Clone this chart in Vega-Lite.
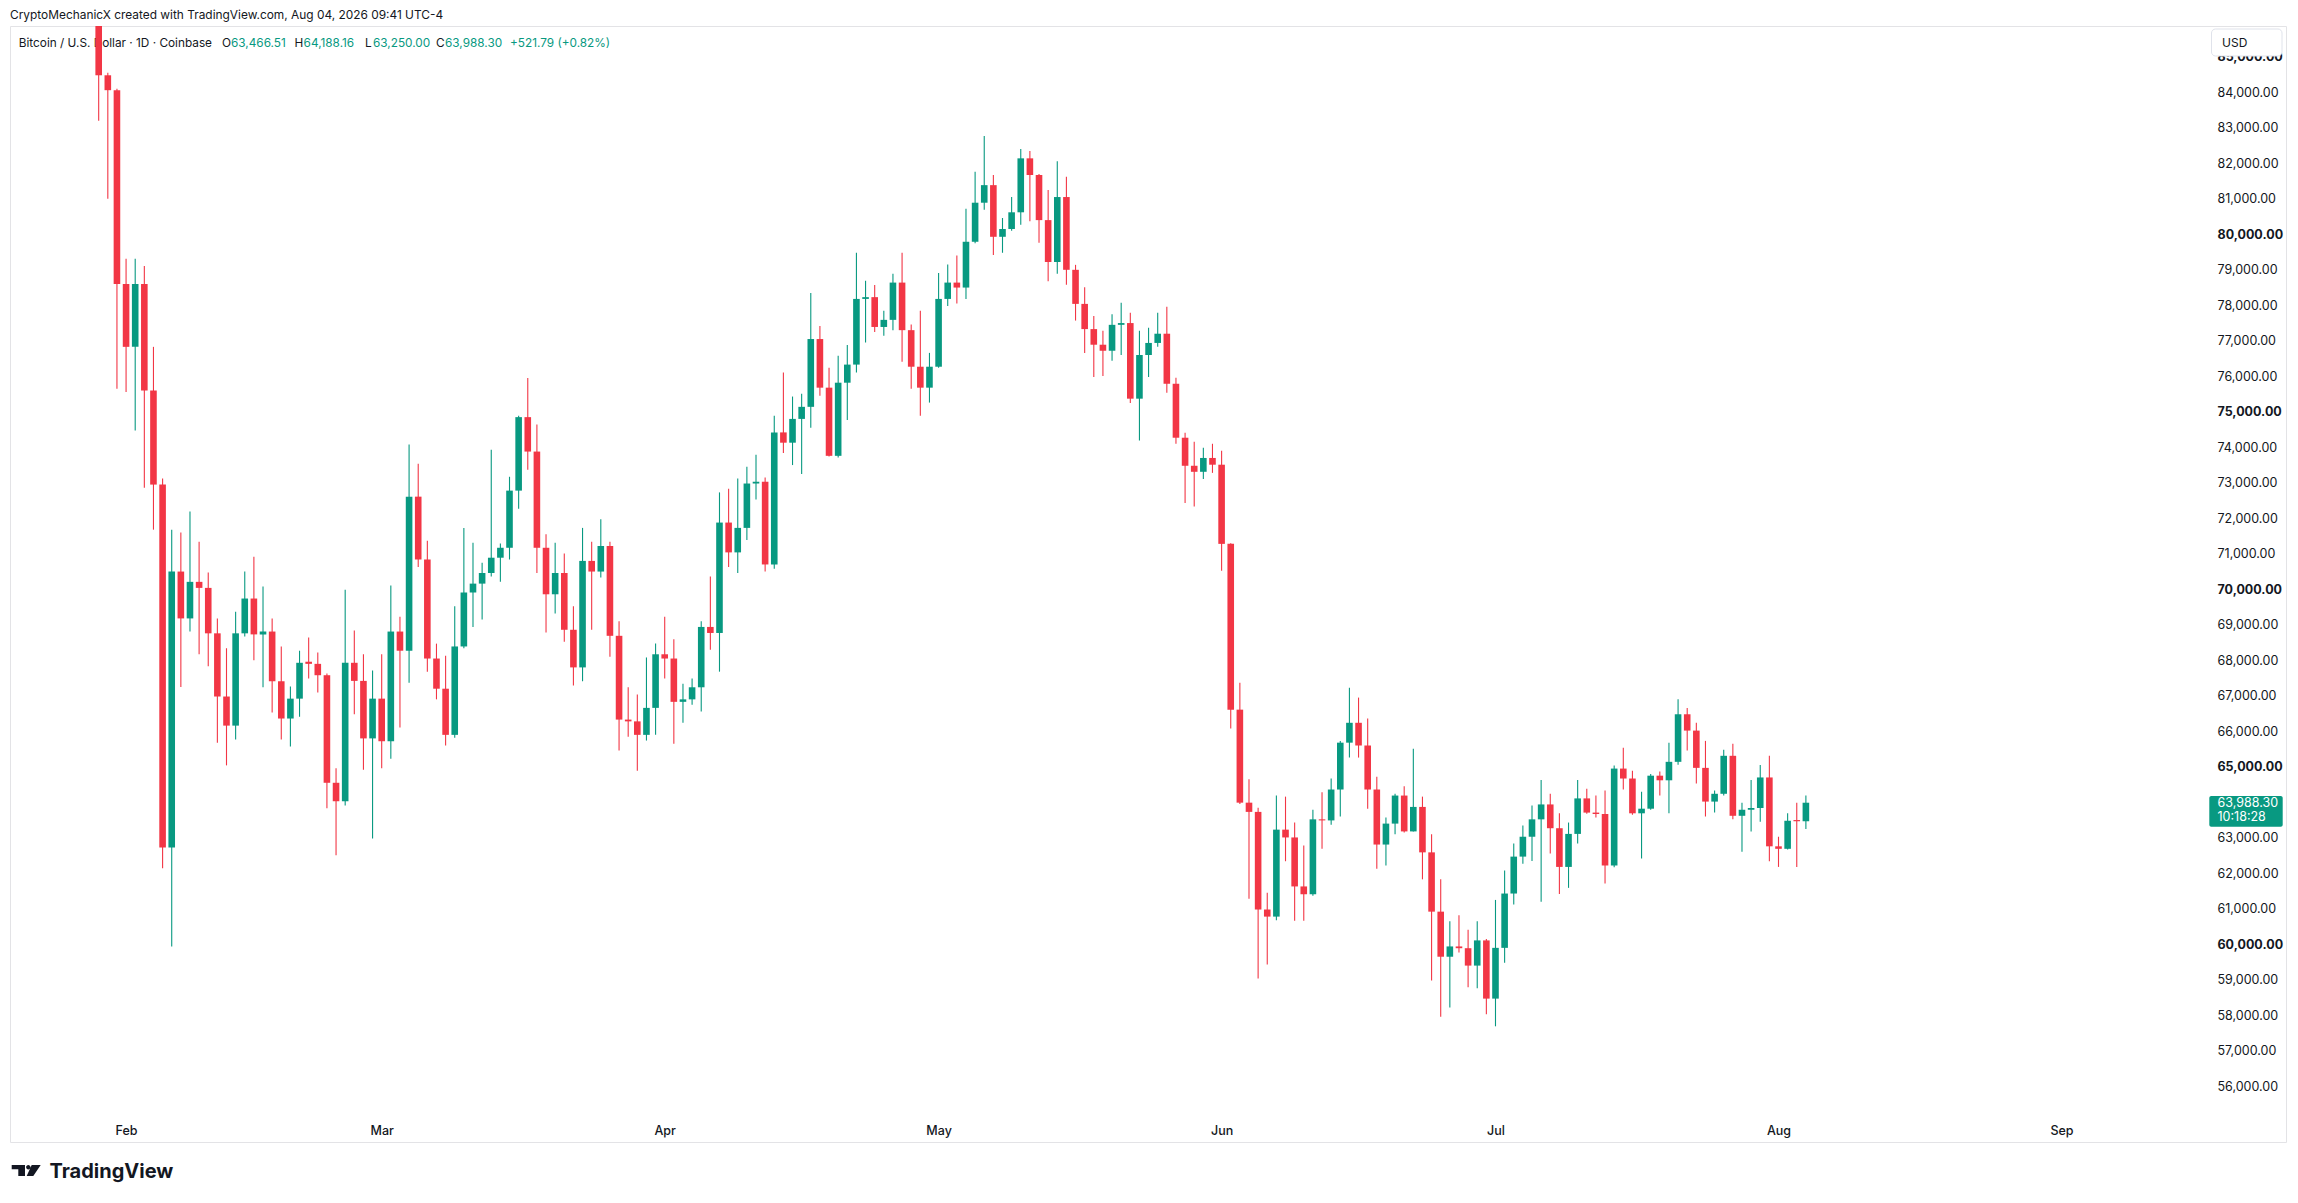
{
  "$schema": "https://vega.github.io/schema/vega-lite/v6.json",
  "autosize": "none",
  "width": 2276,
  "height": 1116,
  "padding": {"left": 10, "top": 26, "right": 12, "bottom": 61},
  "background": "#ffffff",
  "config": {
    "font": "Inter",
    "view": {"stroke": "#e3e3e6", "strokeWidth": 1},
    "axis": {"labelFont": "Inter", "labelColor": "#131722", "labelFontSize": 12.5}
  },
  "datasets": {
    "candles": [
      {"d":"2026-01-29","o":86300,"h":86900,"l":83200,"c":84480},
      {"d":"2026-01-30","o":84480,"h":84550,"l":81000,"c":84060},
      {"d":"2026-01-31","o":84060,"h":84100,"l":75650,"c":78600},
      {"d":"2026-02-01","o":78600,"h":79310,"l":75560,"c":76830},
      {"d":"2026-02-02","o":76830,"h":79310,"l":74470,"c":78600},
      {"d":"2026-02-03","o":78600,"h":79110,"l":72860,"c":75600},
      {"d":"2026-02-04","o":75600,"h":76830,"l":71680,"c":72950},
      {"d":"2026-02-05","o":72950,"h":73120,"l":62140,"c":62730},
      {"d":"2026-02-06","o":62730,"h":71680,"l":59940,"c":70500},
      {"d":"2026-02-07","o":70500,"h":71600,"l":67250,"c":69180},
      {"d":"2026-02-08","o":69180,"h":72190,"l":68810,"c":70210},
      {"d":"2026-02-09","o":70210,"h":71340,"l":68170,"c":70040},
      {"d":"2026-02-10","o":70040,"h":70470,"l":67830,"c":68760},
      {"d":"2026-02-11","o":68760,"h":69180,"l":65680,"c":66980},
      {"d":"2026-02-12","o":66980,"h":68340,"l":65040,"c":66160},
      {"d":"2026-02-13","o":66160,"h":69370,"l":65770,"c":68760},
      {"d":"2026-02-14","o":68760,"h":70500,"l":68670,"c":69740},
      {"d":"2026-02-15","o":69740,"h":70920,"l":68000,"c":68730},
      {"d":"2026-02-16","o":68730,"h":70080,"l":67240,"c":68810},
      {"d":"2026-02-17","o":68810,"h":69180,"l":66530,"c":67410},
      {"d":"2026-02-18","o":67410,"h":68390,"l":65770,"c":66360},
      {"d":"2026-02-19","o":66360,"h":67260,"l":65570,"c":66920},
      {"d":"2026-02-20","o":66920,"h":68270,"l":66410,"c":67930},
      {"d":"2026-02-21","o":67960,"h":68640,"l":67490,"c":67900},
      {"d":"2026-02-22","o":67900,"h":68220,"l":67090,"c":67580},
      {"d":"2026-02-23","o":67580,"h":67630,"l":63830,"c":64550},
      {"d":"2026-02-24","o":64550,"h":64960,"l":62510,"c":64030},
      {"d":"2026-02-25","o":64030,"h":69990,"l":63910,"c":67930},
      {"d":"2026-02-26","o":67930,"h":68840,"l":66480,"c":67420},
      {"d":"2026-02-27","o":67420,"h":68170,"l":64920,"c":65800},
      {"d":"2026-02-28","o":65800,"h":67710,"l":62980,"c":66920},
      {"d":"2026-03-01","o":66920,"h":68170,"l":64960,"c":65720},
      {"d":"2026-03-02","o":65720,"h":70110,"l":65230,"c":68810},
      {"d":"2026-03-03","o":68810,"h":69230,"l":66110,"c":68270},
      {"d":"2026-03-04","o":68270,"h":74080,"l":67370,"c":72610},
      {"d":"2026-03-05","o":72610,"h":73540,"l":70630,"c":70840},
      {"d":"2026-03-06","o":70840,"h":71370,"l":67680,"c":68050},
      {"d":"2026-03-07","o":68050,"h":68470,"l":66900,"c":67200},
      {"d":"2026-03-08","o":67200,"h":68130,"l":65600,"c":65900},
      {"d":"2026-03-09","o":65900,"h":69520,"l":65820,"c":68390},
      {"d":"2026-03-10","o":68390,"h":71730,"l":68340,"c":69910},
      {"d":"2026-03-11","o":69910,"h":71310,"l":68940,"c":70160},
      {"d":"2026-03-12","o":70160,"h":70750,"l":69150,"c":70460},
      {"d":"2026-03-13","o":70460,"h":73930,"l":70360,"c":70890},
      {"d":"2026-03-14","o":70890,"h":71290,"l":70210,"c":71170},
      {"d":"2026-03-15","o":71170,"h":73170,"l":70840,"c":72780},
      {"d":"2026-03-16","o":72780,"h":74890,"l":72270,"c":74850},
      {"d":"2026-03-17","o":74850,"h":75950,"l":73370,"c":73880},
      {"d":"2026-03-18","o":73880,"h":74640,"l":70460,"c":71170},
      {"d":"2026-03-19","o":71170,"h":71550,"l":68780,"c":69860},
      {"d":"2026-03-20","o":69860,"h":71310,"l":69320,"c":70460},
      {"d":"2026-03-21","o":70460,"h":71010,"l":68520,"c":68860},
      {"d":"2026-03-22","o":68860,"h":69520,"l":67290,"c":67800},
      {"d":"2026-03-23","o":67800,"h":71730,"l":67410,"c":70800},
      {"d":"2026-03-24","o":70800,"h":71340,"l":68860,"c":70500},
      {"d":"2026-03-25","o":70500,"h":71970,"l":70330,"c":71220},
      {"d":"2026-03-26","o":71220,"h":71340,"l":68100,"c":68690},
      {"d":"2026-03-27","o":68690,"h":69100,"l":65460,"c":66330},
      {"d":"2026-03-28","o":66330,"h":67240,"l":65850,"c":66280},
      {"d":"2026-03-29","o":66280,"h":67040,"l":64890,"c":65900},
      {"d":"2026-03-30","o":65900,"h":68080,"l":65740,"c":66660},
      {"d":"2026-03-31","o":66660,"h":68470,"l":65900,"c":68170},
      {"d":"2026-04-01","o":68170,"h":69230,"l":67490,"c":68050},
      {"d":"2026-04-02","o":68050,"h":68590,"l":65650,"c":66830},
      {"d":"2026-04-03","o":66830,"h":67340,"l":66240,"c":66900},
      {"d":"2026-04-04","o":66900,"h":67490,"l":66750,"c":67240},
      {"d":"2026-04-05","o":67240,"h":69100,"l":66560,"c":68940},
      {"d":"2026-04-06","o":68940,"h":70360,"l":68300,"c":68770},
      {"d":"2026-04-07","o":68770,"h":72730,"l":67680,"c":71880},
      {"d":"2026-04-08","o":71880,"h":72830,"l":70630,"c":71040},
      {"d":"2026-04-09","o":71040,"h":73120,"l":70460,"c":71730},
      {"d":"2026-04-10","o":71730,"h":73450,"l":71390,"c":72980},
      {"d":"2026-04-11","o":72980,"h":73790,"l":72530,"c":73030},
      {"d":"2026-04-12","o":73030,"h":73150,"l":70500,"c":70700},
      {"d":"2026-04-13","o":70700,"h":74890,"l":70580,"c":74420},
      {"d":"2026-04-14","o":74420,"h":76110,"l":73840,"c":74130},
      {"d":"2026-04-15","o":74130,"h":75430,"l":73500,"c":74800},
      {"d":"2026-04-16","o":74800,"h":75510,"l":73250,"c":75140},
      {"d":"2026-04-17","o":75140,"h":78350,"l":74550,"c":77050},
      {"d":"2026-04-18","o":77050,"h":77420,"l":75450,"c":75680},
      {"d":"2026-04-19","o":75680,"h":76240,"l":73740,"c":73760},
      {"d":"2026-04-20","o":73760,"h":76580,"l":73710,"c":75820},
      {"d":"2026-04-21","o":75820,"h":76880,"l":74770,"c":76330},
      {"d":"2026-04-22","o":76330,"h":79480,"l":76110,"c":78180},
      {"d":"2026-04-23","o":78180,"h":78690,"l":76950,"c":78230},
      {"d":"2026-04-24","o":78230,"h":78570,"l":77250,"c":77390},
      {"d":"2026-04-25","o":77390,"h":77850,"l":77140,"c":77590},
      {"d":"2026-04-26","o":77590,"h":78890,"l":77300,"c":78640},
      {"d":"2026-04-27","o":78640,"h":79480,"l":76410,"c":77300},
      {"d":"2026-04-28","o":77300,"h":77460,"l":75650,"c":76270},
      {"d":"2026-04-29","o":76270,"h":77850,"l":74890,"c":75680},
      {"d":"2026-04-30","o":75680,"h":76660,"l":75260,"c":76270},
      {"d":"2026-05-01","o":76270,"h":78910,"l":76240,"c":78180},
      {"d":"2026-05-02","o":78180,"h":79150,"l":77980,"c":78640},
      {"d":"2026-05-03","o":78640,"h":79400,"l":78050,"c":78500},
      {"d":"2026-05-04","o":78500,"h":80720,"l":78180,"c":79790},
      {"d":"2026-05-05","o":79790,"h":81760,"l":79750,"c":80890},
      {"d":"2026-05-06","o":80890,"h":82770,"l":80690,"c":81385},
      {"d":"2026-05-07","o":81385,"h":81670,"l":79420,"c":79930},
      {"d":"2026-05-08","o":79930,"h":80460,"l":79480,"c":80150},
      {"d":"2026-05-09","o":80150,"h":81050,"l":80100,"c":80620},
      {"d":"2026-05-10","o":80620,"h":82400,"l":80270,"c":82140},
      {"d":"2026-05-11","o":82140,"h":82350,"l":80370,"c":81670},
      {"d":"2026-05-12","o":81670,"h":81700,"l":79760,"c":80400},
      {"d":"2026-05-13","o":80400,"h":81250,"l":78680,"c":79220},
      {"d":"2026-05-14","o":79220,"h":82060,"l":78890,"c":81050},
      {"d":"2026-05-15","o":81050,"h":81620,"l":78580,"c":79000},
      {"d":"2026-05-16","o":79000,"h":79140,"l":77570,"c":78040},
      {"d":"2026-05-17","o":78040,"h":78510,"l":76660,"c":77330},
      {"d":"2026-05-18","o":77330,"h":77700,"l":75980,"c":76890},
      {"d":"2026-05-19","o":76890,"h":77280,"l":76010,"c":76720},
      {"d":"2026-05-20","o":76720,"h":77750,"l":76440,"c":77450},
      {"d":"2026-05-21","o":77450,"h":78070,"l":76600,"c":77500},
      {"d":"2026-05-22","o":77500,"h":77790,"l":75250,"c":75370},
      {"d":"2026-05-23","o":75370,"h":77280,"l":74190,"c":76600},
      {"d":"2026-05-24","o":76600,"h":77370,"l":75980,"c":76940},
      {"d":"2026-05-25","o":76940,"h":77790,"l":76830,"c":77200},
      {"d":"2026-05-26","o":77200,"h":77960,"l":75540,"c":75790},
      {"d":"2026-05-27","o":75790,"h":75960,"l":74100,"c":74270},
      {"d":"2026-05-28","o":74270,"h":74410,"l":72430,"c":73480},
      {"d":"2026-05-29","o":73480,"h":74160,"l":72330,"c":73310},
      {"d":"2026-05-30","o":73310,"h":73990,"l":73110,"c":73700},
      {"d":"2026-05-31","o":73700,"h":74100,"l":73280,"c":73510},
      {"d":"2026-06-01","o":73510,"h":73900,"l":70520,"c":71280},
      {"d":"2026-06-02","o":71280,"h":71300,"l":66080,"c":66610},
      {"d":"2026-06-03","o":66610,"h":67370,"l":63950,"c":63990},
      {"d":"2026-06-04","o":63990,"h":64650,"l":61280,"c":63730},
      {"d":"2026-06-05","o":63730,"h":63850,"l":59040,"c":60980},
      {"d":"2026-06-06","o":60980,"h":61450,"l":59430,"c":60780},
      {"d":"2026-06-07","o":60780,"h":64190,"l":60680,"c":63230},
      {"d":"2026-06-08","o":63230,"h":64160,"l":62340,"c":63010},
      {"d":"2026-06-09","o":63010,"h":63430,"l":60660,"c":61630},
      {"d":"2026-06-10","o":61630,"h":62780,"l":60660,"c":61410},
      {"d":"2026-06-11","o":61410,"h":63790,"l":61370,"c":63520},
      {"d":"2026-06-12","o":63520,"h":64280,"l":62690,"c":63490},
      {"d":"2026-06-13","o":63490,"h":64670,"l":63370,"c":64360},
      {"d":"2026-06-14","o":64360,"h":65730,"l":63600,"c":65680},
      {"d":"2026-06-15","o":65680,"h":67230,"l":65260,"c":66240},
      {"d":"2026-06-16","o":66240,"h":66950,"l":65260,"c":65600},
      {"d":"2026-06-17","o":65600,"h":66360,"l":63820,"c":64360},
      {"d":"2026-06-18","o":64360,"h":64720,"l":62130,"c":62810},
      {"d":"2026-06-19","o":62810,"h":63570,"l":62220,"c":63400},
      {"d":"2026-06-20","o":63400,"h":64240,"l":63100,"c":64190},
      {"d":"2026-06-21","o":64190,"h":64450,"l":63150,"c":63180},
      {"d":"2026-06-22","o":63180,"h":65510,"l":63180,"c":63870},
      {"d":"2026-06-23","o":63870,"h":64160,"l":61830,"c":62590},
      {"d":"2026-06-24","o":62590,"h":63100,"l":58980,"c":60920},
      {"d":"2026-06-25","o":60920,"h":61830,"l":57960,"c":59650},
      {"d":"2026-06-26","o":59650,"h":60650,"l":58220,"c":59940},
      {"d":"2026-06-27","o":59940,"h":60820,"l":59770,"c":59890},
      {"d":"2026-06-28","o":59890,"h":60410,"l":58790,"c":59400},
      {"d":"2026-06-29","o":59400,"h":60650,"l":58760,"c":60110},
      {"d":"2026-06-30","o":60110,"h":60150,"l":58030,"c":58470},
      {"d":"2026-07-01","o":58470,"h":61250,"l":57690,"c":59900},
      {"d":"2026-07-02","o":59900,"h":62080,"l":59480,"c":61430},
      {"d":"2026-07-03","o":61430,"h":62840,"l":61120,"c":62470},
      {"d":"2026-07-04","o":62470,"h":63350,"l":62270,"c":63030},
      {"d":"2026-07-05","o":63030,"h":63910,"l":62350,"c":63520},
      {"d":"2026-07-06","o":63520,"h":64630,"l":61200,"c":63940},
      {"d":"2026-07-07","o":63940,"h":64240,"l":62560,"c":63270},
      {"d":"2026-07-08","o":63270,"h":63690,"l":61420,"c":62180},
      {"d":"2026-07-09","o":62180,"h":63430,"l":61590,"c":63110},
      {"d":"2026-07-10","o":63110,"h":64630,"l":62840,"c":64110},
      {"d":"2026-07-11","o":64110,"h":64380,"l":63680,"c":63710},
      {"d":"2026-07-12","o":63710,"h":64190,"l":63570,"c":63670},
      {"d":"2026-07-13","o":63670,"h":64330,"l":61710,"c":62220},
      {"d":"2026-07-14","o":62220,"h":65040,"l":62170,"c":64950},
      {"d":"2026-07-15","o":64950,"h":65540,"l":64360,"c":64670},
      {"d":"2026-07-16","o":64670,"h":64890,"l":63650,"c":63690},
      {"d":"2026-07-17","o":63690,"h":64300,"l":62420,"c":63820},
      {"d":"2026-07-18","o":63820,"h":64800,"l":63790,"c":64750},
      {"d":"2026-07-19","o":64750,"h":64870,"l":64190,"c":64620},
      {"d":"2026-07-20","o":64620,"h":65680,"l":63690,"c":65140},
      {"d":"2026-07-21","o":65140,"h":66900,"l":65060,"c":66480},
      {"d":"2026-07-22","o":66480,"h":66660,"l":65460,"c":66020},
      {"d":"2026-07-23","o":66020,"h":66240,"l":64530,"c":64970},
      {"d":"2026-07-24","o":64970,"h":65730,"l":63600,"c":64020},
      {"d":"2026-07-25","o":64020,"h":64330,"l":63710,"c":64240},
      {"d":"2026-07-26","o":64240,"h":65480,"l":64190,"c":65310},
      {"d":"2026-07-27","o":65310,"h":65650,"l":63520,"c":63620},
      {"d":"2026-07-28","o":63620,"h":63990,"l":62610,"c":63790},
      {"d":"2026-07-29","o":63790,"h":64630,"l":63180,"c":63840},
      {"d":"2026-07-30","o":63840,"h":65050,"l":63450,"c":64700},
      {"d":"2026-07-31","o":64700,"h":65310,"l":62340,"c":62760},
      {"d":"2026-08-01","o":62760,"h":63030,"l":62180,"c":62690},
      {"d":"2026-08-02","o":62690,"h":63690,"l":62670,"c":63480},
      {"d":"2026-08-03","o":63500,"h":63990,"l":62180,"c":63466.51},
      {"d":"2026-08-04","o":63466.51,"h":64188.16,"l":63250,"c":63988.3}
    ]
  },
  "layer": [
    {
      "data": {"values": [{}]},
      "mark": {"type": "text", "text": "CryptoMechanicX created with TradingView.com, Aug 04, 2026 09:41 UTC-4", "align": "left", "baseline": "middle", "fontSize": 11.9, "color": "#131722", "font": "Inter"},
      "encoding": {"x": {"value": 0}, "y": {"value": -11}}
    },
    {
      "data": {"values": [{}]},
      "mark": {"type": "text", "text": "Bitcoin / U.S. Dollar · 1D · Coinbase", "align": "left", "baseline": "middle", "fontSize": 11.8, "color": "#131722", "font": "Inter"},
      "encoding": {"x": {"value": 8.75}, "y": {"value": 16.5}}
    },
    {
      "data": {"values": [{}]},
      "mark": {"type": "text", "text": "O", "align": "left", "baseline": "middle", "fontSize": 11.8, "color": "#131722", "font": "Inter"},
      "encoding": {"x": {"value": 212}, "y": {"value": 16.5}}
    },
    {
      "data": {"values": [{}]},
      "mark": {"type": "text", "text": "63,466.51", "align": "left", "baseline": "middle", "fontSize": 11.8, "color": "#089981", "font": "Inter"},
      "encoding": {"x": {"value": 221}, "y": {"value": 16.5}}
    },
    {
      "data": {"values": [{}]},
      "mark": {"type": "text", "text": "H", "align": "left", "baseline": "middle", "fontSize": 11.8, "color": "#131722", "font": "Inter"},
      "encoding": {"x": {"value": 284.6}, "y": {"value": 16.5}}
    },
    {
      "data": {"values": [{}]},
      "mark": {"type": "text", "text": "64,188.16", "align": "left", "baseline": "middle", "fontSize": 11.8, "color": "#089981", "font": "Inter"},
      "encoding": {"x": {"value": 293.6}, "y": {"value": 16.5}}
    },
    {
      "data": {"values": [{}]},
      "mark": {"type": "text", "text": "L", "align": "left", "baseline": "middle", "fontSize": 11.8, "color": "#131722", "font": "Inter"},
      "encoding": {"x": {"value": 355}, "y": {"value": 16.5}}
    },
    {
      "data": {"values": [{}]},
      "mark": {"type": "text", "text": "63,250.00", "align": "left", "baseline": "middle", "fontSize": 11.8, "color": "#089981", "font": "Inter"},
      "encoding": {"x": {"value": 363}, "y": {"value": 16.5}}
    },
    {
      "data": {"values": [{}]},
      "mark": {"type": "text", "text": "C", "align": "left", "baseline": "middle", "fontSize": 11.8, "color": "#131722", "font": "Inter"},
      "encoding": {"x": {"value": 426}, "y": {"value": 16.5}}
    },
    {
      "data": {"values": [{}]},
      "mark": {"type": "text", "text": "63,988.30", "align": "left", "baseline": "middle", "fontSize": 11.8, "color": "#089981", "font": "Inter"},
      "encoding": {"x": {"value": 435}, "y": {"value": 16.5}}
    },
    {
      "data": {"values": [{}]},
      "mark": {"type": "text", "text": "+521.79 (+0.82%)", "align": "left", "baseline": "middle", "fontSize": 11.8, "color": "#089981", "font": "Inter"},
      "encoding": {"x": {"value": 500}, "y": {"value": 16.5}}
    },
    {
      "data": {"name": "candles"},
      "mark": {"type": "rule", "strokeWidth": 1.1, "clip": true},
      "encoding": {
        "x": {
          "field": "d", "type": "temporal",
          "scale": {"type": "utc", "domain": [{"year": 2026, "month": 1, "date": 19, "hours": 20, "utc": true}, {"year": 2026, "month": 9, "date": 25, "hours": 1, "utc": true}]},
          "axis": {
            "title": null, "orient": "bottom",
            "labelExpr": "utcFormat(datum.value, '%b')",
            "values": [
              {"year": 2026, "month": 2, "date": 1, "utc": true},
              {"year": 2026, "month": 3, "date": 1, "utc": true},
              {"year": 2026, "month": 4, "date": 1, "utc": true},
              {"year": 2026, "month": 5, "date": 1, "utc": true},
              {"year": 2026, "month": 6, "date": 1, "utc": true},
              {"year": 2026, "month": 7, "date": 1, "utc": true},
              {"year": 2026, "month": 8, "date": 1, "utc": true},
              {"year": 2026, "month": 9, "date": 1, "utc": true}
            ],
            "domain": false, "ticks": false, "tickSize": 0, "grid": false,
            "labelBaseline": "middle", "labelPadding": -12, "labelOverlap": false, "labelFlush": false, "labelFontWeight": 500
          }
        },
        "y": {
          "field": "l", "type": "quantitative",
          "scale": {"domain": [54431, 85868], "zero": false, "nice": false},
          "axis": {
            "title": null, "orient": "right",
            "values": [56000,57000,58000,59000,60000,61000,62000,63000,64000,65000,66000,67000,68000,69000,70000,71000,72000,73000,74000,75000,76000,77000,78000,79000,80000,81000,82000,83000,84000,85000],
            "format": ",.2f",
            "domain": false, "ticks": false, "tickSize": 0, "grid": false,
            "labelAlign": "left", "labelPadding": -69, "labelOverlap": false, "labelFlush": false,
            "labelFontWeight": {"condition": {"test": "datum.value % 5000 === 0", "value": "bold"}, "value": "normal"}
          }
        },
        "y2": {"field": "h"},
        "color": {"condition": {"test": "datum.c >= datum.o", "value": "#089981"}, "value": "#f23645"}
      }
    },
    {
      "data": {"name": "candles"},
      "mark": {"type": "bar", "width": 6.6, "clip": true},
      "encoding": {
        "x": {
          "field": "d", "type": "temporal",
          "axis": {
            "title": null, "orient": "bottom",
            "labelExpr": "utcFormat(datum.value, '%b')",
            "values": [
              {"year": 2026, "month": 2, "date": 1, "utc": true},
              {"year": 2026, "month": 3, "date": 1, "utc": true},
              {"year": 2026, "month": 4, "date": 1, "utc": true},
              {"year": 2026, "month": 5, "date": 1, "utc": true},
              {"year": 2026, "month": 6, "date": 1, "utc": true},
              {"year": 2026, "month": 7, "date": 1, "utc": true},
              {"year": 2026, "month": 8, "date": 1, "utc": true},
              {"year": 2026, "month": 9, "date": 1, "utc": true}
            ],
            "domain": false, "ticks": false, "tickSize": 0, "grid": false,
            "labelBaseline": "middle", "labelPadding": -12, "labelOverlap": false, "labelFlush": false, "labelFontWeight": 500
          }
        },
        "y": {
          "field": "o", "type": "quantitative",
          "axis": {
            "title": null, "orient": "right",
            "values": [56000,57000,58000,59000,60000,61000,62000,63000,64000,65000,66000,67000,68000,69000,70000,71000,72000,73000,74000,75000,76000,77000,78000,79000,80000,81000,82000,83000,84000,85000],
            "format": ",.2f",
            "domain": false, "ticks": false, "tickSize": 0, "grid": false,
            "labelAlign": "left", "labelPadding": -69, "labelOverlap": false, "labelFlush": false,
            "labelFontWeight": {"condition": {"test": "datum.value % 5000 === 0", "value": "bold"}, "value": "normal"}
          }
        },
        "y2": {"field": "c"},
        "color": {"condition": {"test": "datum.c >= datum.o", "value": "#089981"}, "value": "#f23645"}
      }
    },
    {
      "data": {"values": [{}]},
      "mark": {"type": "rect", "fill": "#ffffff", "stroke": "#e0e3eb", "strokeWidth": 1, "cornerRadius": 4},
      "encoding": {"x": {"value": 2201.5}, "x2": {"value": 2272}, "y": {"value": 3}, "y2": {"value": 30}}
    },
    {
      "data": {"values": [{}]},
      "mark": {"type": "text", "text": "USD", "align": "left", "baseline": "middle", "fontSize": 12, "color": "#131722", "font": "Inter"},
      "encoding": {"x": {"value": 2212}, "y": {"value": 17}}
    },
    {
      "data": {"values": [{}]},
      "mark": {"type": "rect", "fill": "#089981", "cornerRadius": 2},
      "encoding": {"x": {"value": 2199.3}, "x2": {"value": 2272.7}, "y": {"value": 770}, "y2": {"value": 800.7}}
    },
    {
      "data": {"values": [{}]},
      "mark": {"type": "text", "text": "63,988.30", "align": "left", "baseline": "middle", "fontSize": 12.5, "color": "#ffffff", "font": "Inter"},
      "encoding": {"x": {"value": 2207.5}, "y": {"value": 777.3}}
    },
    {
      "data": {"values": [{}]},
      "mark": {"type": "text", "text": "10:18:28", "align": "left", "baseline": "middle", "fontSize": 12.5, "color": "#ffffff", "font": "Inter"},
      "encoding": {"x": {"value": 2207.5}, "y": {"value": 791.3}}
    },
    {
      "data": {"values": [{}]},
      "mark": {"type": "point", "shape": "M-1,-0.379 L-0.083,-0.379 L-0.083,0.379 L-0.545,0.379 L-0.545,-0.083 L-1,-0.083 Z M-0.007,-0.228 A0.152,0.152 0 1,0 0.297,-0.228 A0.152,0.152 0 1,0 -0.007,-0.228 Z M0.379,-0.379 L1,-0.379 L0.49,0.379 L0.034,0.379 Z", "size": 841, "filled": true, "color": "#131722", "opacity": 1, "strokeWidth": 0},
      "encoding": {"x": {"value": 16.2}, "y": {"value": 1144.5}}
    },
    {
      "data": {"values": [{}]},
      "mark": {"type": "text", "text": "TradingView", "align": "left", "baseline": "middle", "fontSize": 20, "fontWeight": 700, "color": "#131722", "font": "Inter"},
      "encoding": {"x": {"value": 39.5}, "y": {"value": 1146}}
    }
  ]
}
